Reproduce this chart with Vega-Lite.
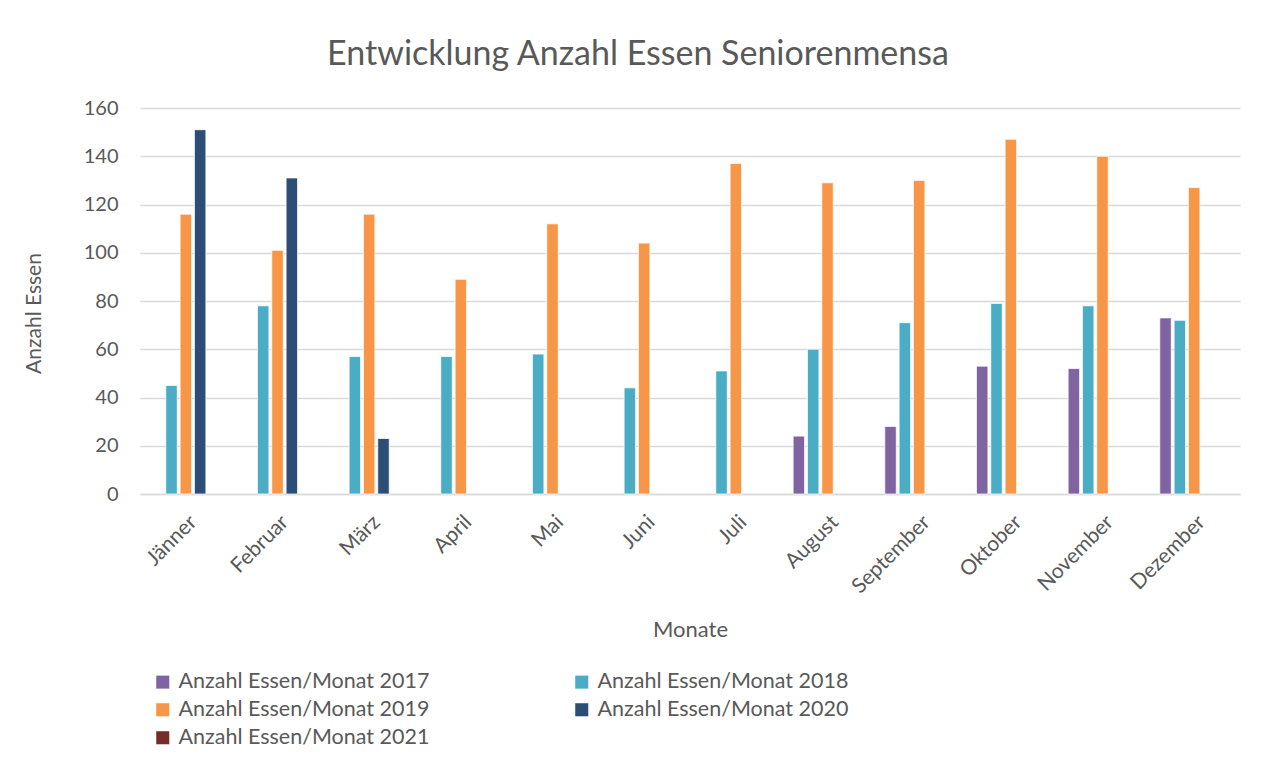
{
  "$schema": "https://vega.github.io/schema/vega-lite/v6.json",
  "width": 1100,
  "height": 386,
  "autosize": "none",
  "padding": {"left": 140, "top": 108, "right": 29, "bottom": 282},
  "background": "white",
  "title": {
    "text": "Entwicklung Anzahl Essen Seniorenmensa",
    "frame": "group",
    "anchor": "middle",
    "dx": -52,
    "offset": 26,
    "fontSize": 34,
    "font": "Lato",
    "fontWeight": "normal",
    "color": "#595959"
  },
  "data": {
    "values": [
      {"Monat": "Jänner", "Serie": "Anzahl Essen/Monat 2018", "Anzahl": 45},
      {"Monat": "Jänner", "Serie": "Anzahl Essen/Monat 2019", "Anzahl": 116},
      {"Monat": "Jänner", "Serie": "Anzahl Essen/Monat 2020", "Anzahl": 151},
      {"Monat": "Februar", "Serie": "Anzahl Essen/Monat 2018", "Anzahl": 78},
      {"Monat": "Februar", "Serie": "Anzahl Essen/Monat 2019", "Anzahl": 101},
      {"Monat": "Februar", "Serie": "Anzahl Essen/Monat 2020", "Anzahl": 131},
      {"Monat": "März", "Serie": "Anzahl Essen/Monat 2018", "Anzahl": 57},
      {"Monat": "März", "Serie": "Anzahl Essen/Monat 2019", "Anzahl": 116},
      {"Monat": "März", "Serie": "Anzahl Essen/Monat 2020", "Anzahl": 23},
      {"Monat": "April", "Serie": "Anzahl Essen/Monat 2018", "Anzahl": 57},
      {"Monat": "April", "Serie": "Anzahl Essen/Monat 2019", "Anzahl": 89},
      {"Monat": "Mai", "Serie": "Anzahl Essen/Monat 2018", "Anzahl": 58},
      {"Monat": "Mai", "Serie": "Anzahl Essen/Monat 2019", "Anzahl": 112},
      {"Monat": "Juni", "Serie": "Anzahl Essen/Monat 2018", "Anzahl": 44},
      {"Monat": "Juni", "Serie": "Anzahl Essen/Monat 2019", "Anzahl": 104},
      {"Monat": "Juli", "Serie": "Anzahl Essen/Monat 2018", "Anzahl": 51},
      {"Monat": "Juli", "Serie": "Anzahl Essen/Monat 2019", "Anzahl": 137},
      {"Monat": "August", "Serie": "Anzahl Essen/Monat 2017", "Anzahl": 24},
      {"Monat": "August", "Serie": "Anzahl Essen/Monat 2018", "Anzahl": 60},
      {"Monat": "August", "Serie": "Anzahl Essen/Monat 2019", "Anzahl": 129},
      {"Monat": "September", "Serie": "Anzahl Essen/Monat 2017", "Anzahl": 28},
      {"Monat": "September", "Serie": "Anzahl Essen/Monat 2018", "Anzahl": 71},
      {"Monat": "September", "Serie": "Anzahl Essen/Monat 2019", "Anzahl": 130},
      {"Monat": "Oktober", "Serie": "Anzahl Essen/Monat 2017", "Anzahl": 53},
      {"Monat": "Oktober", "Serie": "Anzahl Essen/Monat 2018", "Anzahl": 79},
      {"Monat": "Oktober", "Serie": "Anzahl Essen/Monat 2019", "Anzahl": 147},
      {"Monat": "November", "Serie": "Anzahl Essen/Monat 2017", "Anzahl": 52},
      {"Monat": "November", "Serie": "Anzahl Essen/Monat 2018", "Anzahl": 78},
      {"Monat": "November", "Serie": "Anzahl Essen/Monat 2019", "Anzahl": 140},
      {"Monat": "Dezember", "Serie": "Anzahl Essen/Monat 2017", "Anzahl": 73},
      {"Monat": "Dezember", "Serie": "Anzahl Essen/Monat 2018", "Anzahl": 72},
      {"Monat": "Dezember", "Serie": "Anzahl Essen/Monat 2019", "Anzahl": 127}
    ]
  },
  "mark": {"type": "bar", "stroke": "white", "strokeWidth": 0.75},
  "encoding": {
    "x": {
      "field": "Monat",
      "type": "nominal",
      "sort": ["Jänner", "Februar", "März", "April", "Mai", "Juni", "Juli", "August", "September", "Oktober", "November", "Dezember"],
      "scale": {"paddingInner": 0.25, "paddingOuter": 0.125},
      "axis": {
        "title": "Monate",
        "titleFont": "Lato",
        "titleFontSize": 22,
        "titleFontWeight": "normal",
        "titleColor": "#595959",
        "titlePadding": 23,
        "labelAngle": -45,
        "labelFont": "Lato",
        "labelFontSize": 21,
        "labelColor": "#595959",
        "labelPadding": 17,
        "ticks": false,
        "domainColor": "#d9d9d9",
        "domainWidth": 1.5
      }
    },
    "xOffset": {
      "field": "Serie",
      "type": "nominal",
      "scale": {
        "domain": ["Anzahl Essen/Monat 2017", "Anzahl Essen/Monat 2018", "Anzahl Essen/Monat 2019", "Anzahl Essen/Monat 2020", "Anzahl Essen/Monat 2021"],
        "paddingInner": 0.2,
        "paddingOuter": 0
      }
    },
    "y": {
      "field": "Anzahl",
      "type": "quantitative",
      "scale": {"domain": [0, 160]},
      "axis": {
        "title": "Anzahl Essen",
        "titleFont": "Lato",
        "titleFontSize": 21,
        "titleFontWeight": "normal",
        "titleColor": "#595959",
        "titlePadding": 39,
        "titleY": 205,
        "values": [0, 20, 40, 60, 80, 100, 120, 140, 160],
        "labelFont": "Lato",
        "labelFontSize": 20,
        "labelColor": "#595959",
        "labelPadding": 22,
        "ticks": false,
        "domain": false,
        "gridColor": "#d9d9d9",
        "gridWidth": 1.5
      }
    },
    "color": {
      "field": "Serie",
      "type": "nominal",
      "scale": {
        "domain": ["Anzahl Essen/Monat 2017", "Anzahl Essen/Monat 2018", "Anzahl Essen/Monat 2019", "Anzahl Essen/Monat 2020", "Anzahl Essen/Monat 2021"],
        "range": ["#8064A2", "#4BACC6", "#F79646", "#2C4D75", "#772C2A"]
      },
      "legend": {
        "title": null,
        "orient": "none",
        "legendX": 12,
        "legendY": 563,
        "values": ["Anzahl Essen/Monat 2017", "Anzahl Essen/Monat 2019", "Anzahl Essen/Monat 2021", "Anzahl Essen/Monat 2018", "Anzahl Essen/Monat 2020"],
        "columns": 2,
        "columnPadding": 141,
        "rowPadding": 5,
        "symbolType": "square",
        "symbolSize": 170,
        "symbolStrokeWidth": 0,
        "labelFont": "Lato",
        "labelFontSize": 21.5,
        "labelColor": "#595959",
        "labelOffset": 5,
        "labelLimit": 400
      }
    }
  },
  "config": {
    "view": {"stroke": null}
  }
}
